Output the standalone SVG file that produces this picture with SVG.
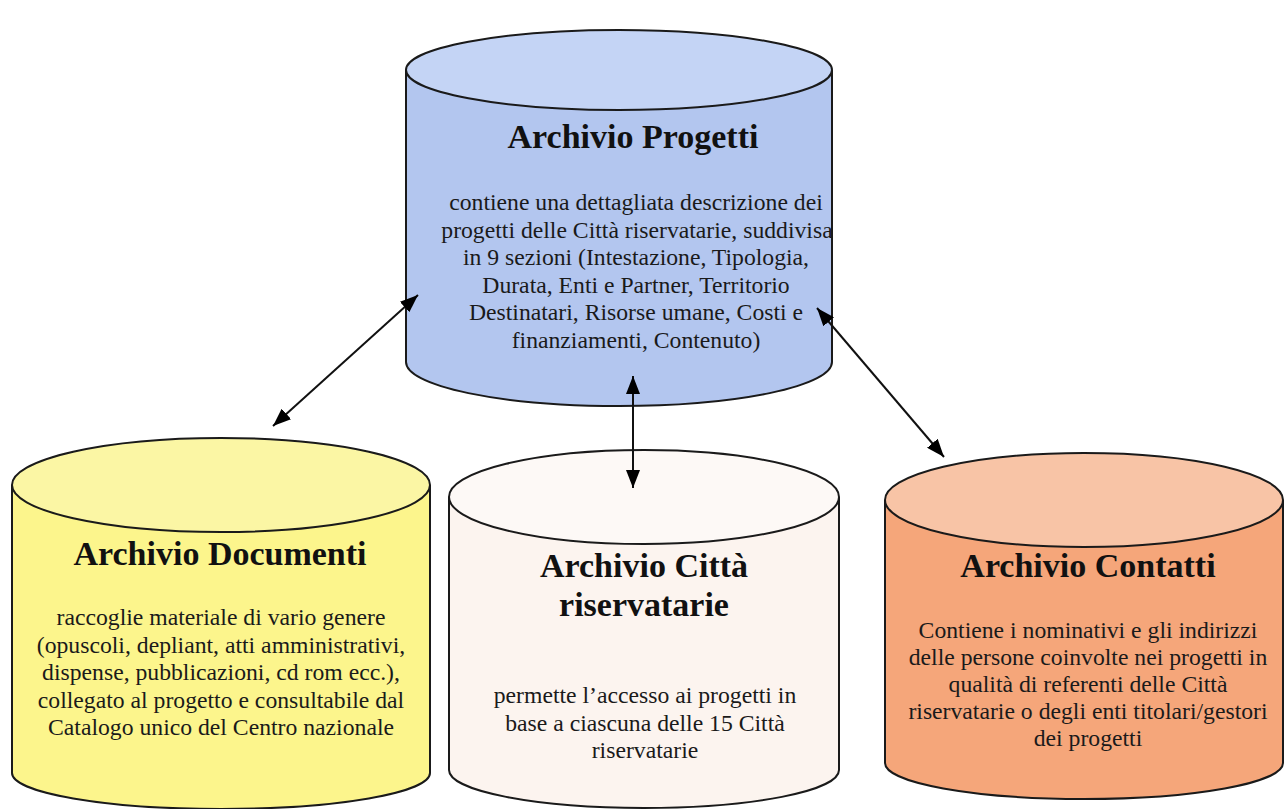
<svg xmlns="http://www.w3.org/2000/svg" width="1284" height="809" viewBox="0 0 1284 809">
<defs>
<marker id="arr" viewBox="0 0 18 14" refX="18" refY="7" markerWidth="18" markerHeight="14" markerUnits="userSpaceOnUse" orient="auto-start-reverse">
<path d="M0,0 L18,7 L0,14 z" fill="#000"/>
</marker>
</defs>
<style>
.cyl{stroke:#1a1a1a;stroke-width:2}
.t{font-family:"Liberation Serif","Times New Roman",serif;font-weight:bold;font-size:34px;fill:#111;text-anchor:middle}
.b{font-family:"Liberation Serif","Times New Roman",serif;font-size:23.7px;fill:#1a1a1a;text-anchor:middle}
.c{stroke:#111;stroke-width:2;fill:none;marker-start:url(#arr);marker-end:url(#arr)}
</style>
<rect width="1284" height="809" fill="#ffffff"/>

<g id="archivio-progetti">
<path class="cyl" d="M406,70 V362 A213,44 0 0 0 832,362 V70" fill="#b3c6ef"/>
<ellipse class="cyl" cx="619" cy="70" rx="213" ry="40" fill="#c4d4f5"/>
<text class="t" x="633" y="148">Archivio Progetti</text>
<text class="b" x="636" y="210">contiene una dettagliata descrizione dei</text>
<text class="b" x="637" y="237.6">progetti delle Città riservatarie, suddivisa</text>
<text class="b" x="636" y="265.2">in 9 sezioni (Intestazione, Tipologia,</text>
<text class="b" x="636" y="292.8">Durata, Enti e Partner, Territorio</text>
<text class="b" x="636" y="320.4">Destinatari, Risorse umane, Costi e</text>
<text class="b" x="636" y="348">finanziamenti, Contenuto)</text>
</g>

<g id="archivio-documenti">
<path class="cyl" d="M12,485 V773 A209,36 0 0 0 430,773 V485" fill="#fcf58c"/>
<ellipse class="cyl" cx="221" cy="485" rx="209" ry="47" fill="#fbf6a4"/>
<text class="t" x="220" y="565">Archivio Documenti</text>
<text class="b" x="221" y="625">raccoglie materiale di vario genere</text>
<text class="b" x="221" y="652.6">(opuscoli, depliant, atti amministrativi,</text>
<text class="b" x="221" y="680.2">dispense, pubblicazioni, cd rom ecc.),</text>
<text class="b" x="221" y="707.8">collegato al progetto e consultabile dal</text>
<text class="b" x="221" y="735.4">Catalogo unico del Centro nazionale</text>
</g>

<g id="archivio-citta">
<path class="cyl" d="M449,497 V770 A195,38 0 0 0 839,770 V497" fill="#fcf4ef"/>
<ellipse class="cyl" cx="644" cy="497" rx="195" ry="47" fill="#fdf9f6"/>
<text class="t" x="644" y="577">Archivio Città</text>
<text class="t" x="644" y="616">riservatarie</text>
<text class="b" x="645" y="703">permette l’accesso ai progetti in</text>
<text class="b" x="645" y="730.5">base a ciascuna delle 15 Città</text>
<text class="b" x="645" y="758">riservatarie</text>
</g>

<g id="archivio-contatti">
<path class="cyl" d="M885,500 V763 A199,36 0 0 0 1283,763 V500" fill="#f5a67a"/>
<ellipse class="cyl" cx="1084" cy="500" rx="199" ry="47" fill="#f8c4a6"/>
<text class="t" x="1088" y="577">Archivio Contatti</text>
<text class="b" x="1088" y="638">Contiene i nominativi e gli indirizzi</text>
<text class="b" x="1088" y="665">delle persone coinvolte nei progetti in</text>
<text class="b" x="1088" y="692">qualità di referenti delle Città</text>
<text class="b" x="1088" y="719">riservatarie o degli enti titolari/gestori</text>
<text class="b" x="1088" y="746">dei progetti</text>
</g>

<g id="connectors">
<line class="c" x1="418" y1="295" x2="273" y2="426"/>
<line class="c" x1="633" y1="376" x2="633" y2="488"/>
<line class="c" x1="817" y1="308" x2="944" y2="457"/>
</g>
</svg>
